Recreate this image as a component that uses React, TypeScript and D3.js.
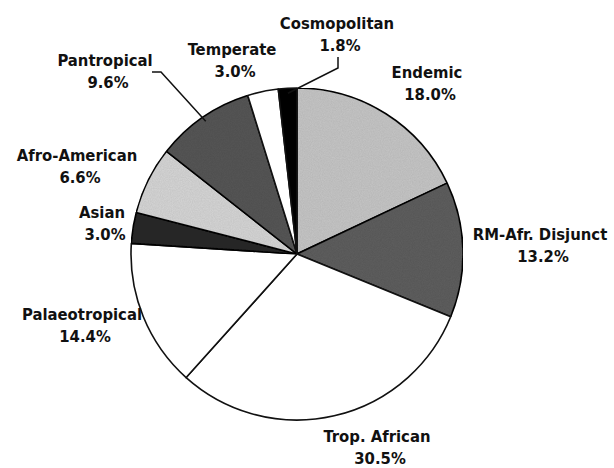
import * as d3 from 'd3';
import React from 'react';

// slices, clockwise from 12 o'clock
const regions = ['Endemic', 'RM-Afr. Disjunct', 'Trop. African', 'Palaeotropical', 'Asian', 'Afro-American', 'Pantropical', 'Temperate', 'Cosmopolitan'];
const shares = [18.0, 13.2, 30.5, 14.4, 3.0, 6.6, 9.6, 3.0, 1.8];
const fills = ['#c6c6c6', '#5e5e5e', '#ffffff', '#ffffff', '#2a2a2a', '#d6d6d6', '#575757', '#ffffff', '#000000'];

// label anchors: centre x, first baseline y
const labelAt: [number, number][] = [
  [427, 78], [540, 240], [377, 442], [82, 320], [102, 218],
  [77, 161], [105, 66], [232, 55], [337, 29],
];
// leader elbows for the small wedges up top
const leaders: Record<string, [number, number][]> = {
  Pantropical: [[152, 72], [161, 72]],
  Cosmopolitan: [[338, 57], [338, 68]],
};

const W = 614, H = 468;
const cx = 297, cy = 254, R = 166;

export default function App() {
  const pie = d3.pie<number>().sort(null).startAngle(0).endAngle(2 * Math.PI);
  const arcs = pie(shares);
  const arc = d3.arc<d3.PieArcDatum<number>>().innerRadius(0).outerRadius(R);
  const edge = (a: d3.PieArcDatum<number>, k = 0.97) => {
    const m = (a.startAngle + a.endAngle) / 2;
    return [cx + Math.sin(m) * R * k, cy - Math.cos(m) * R * k];
  };

  return (
    <svg width={W} height={H} style={{ position: 'absolute', left: 0, top: 0, background: '#fff' }}
      fontFamily="'DejaVu Sans Condensed', 'DejaVu Sans', sans-serif" fontWeight="bold" fontSize={16.5}>
      <defs>
        <filter id="grain" x="0" y="0" width="100%" height="100%">
          <feTurbulence type="fractalNoise" baseFrequency="0.9" numOctaves={2} seed={3} result="n" />
          <feColorMatrix in="n" type="matrix"
            values="0 0 0 0 0  0 0 0 0 0  0 0 0 0 0  0 0 0 0.18 0" result="a" />
          <feComposite in="a" in2="SourceGraphic" operator="in" result="g" />
          <feMerge><feMergeNode in="SourceGraphic" /><feMergeNode in="g" /></feMerge>
        </filter>
      </defs>
      <g transform={`translate(${cx},${cy})`}>
        {arcs.map((a, i) => (
          <path key={regions[i]} d={arc(a) ?? ''} fill={fills[i]}
            filter={fills[i] !== '#ffffff' && fills[i] !== '#000000' ? 'url(#grain)' : undefined}
            stroke="#111" strokeWidth={1.6} strokeLinejoin="round" />
        ))}
      </g>
      {arcs.map((a, i) => {
        const pts = leaders[regions[i]];
        if (!pts) return null;
        const line = d3.line()([...pts, edge(a) as [number, number]]);
        return <path key={'l' + i} d={line ?? ''} fill="none" stroke="#111" strokeWidth={1.5} />;
      })}
      {regions.map((r, i) => (
        <text key={'t' + i} x={labelAt[i][0]} y={labelAt[i][1]} textAnchor="middle" fill="#111">
          <tspan x={labelAt[i][0]}>{r}</tspan>
          <tspan x={labelAt[i][0] + 3} dy={22}>{shares[i].toFixed(1)}%</tspan>
        </text>
      ))}
    </svg>
  );
}
